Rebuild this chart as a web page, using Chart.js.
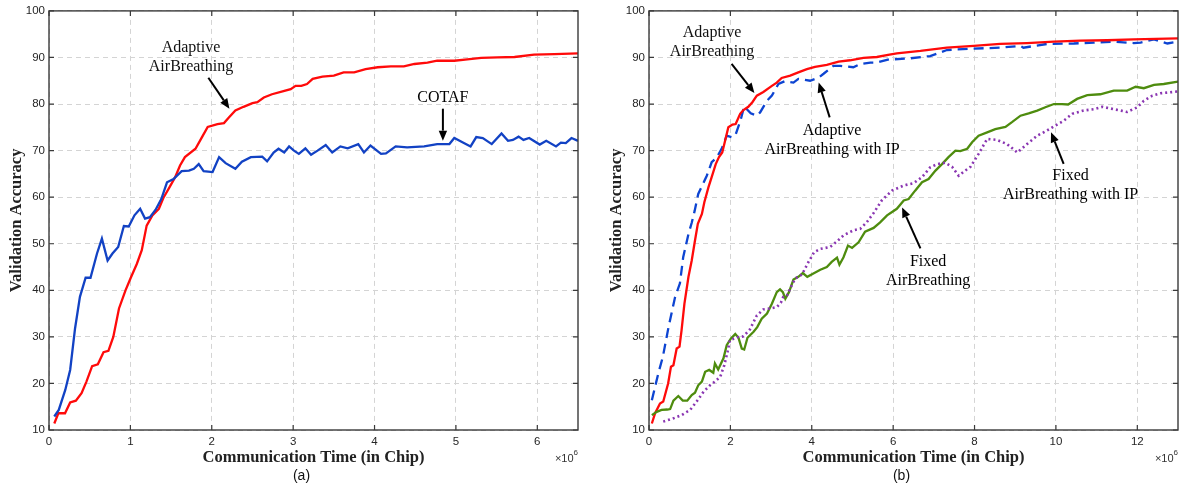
<!DOCTYPE html>
<html><head><meta charset="utf-8">
<script src="https://cdn.jsdelivr.net/npm/chart.js@4.4.1/dist/chart.umd.min.js"></script>
<style>
html,body{margin:0;padding:0;background:#fff;overflow:hidden;}
#wrap{position:relative;width:1181px;height:490px;}
.box{position:absolute;top:0;height:490px;}
</style></head><body>
<div id="wrap">
<div class="box" style="left:0;width:590px"><canvas id="ca"></canvas></div>
<div class="box" style="left:590px;width:591px"><canvas id="cb"></canvas></div>
</div>
<script>
// ---- tick labels ----
const yTicks = [10,20,30,40,50,60,70,80,90,100];
const xTicksA = [0,1,2,3,4,5,6];
const xTicksB = [0,2,4,6,8,10,12];

// ---- data: [communication time (x10^6 chips), validation accuracy] ----
const adaptiveA = [[0.065,11.4],[0.115,13.6],[0.197,13.6],[0.26,15.9],[0.33,16.3],[0.40,17.9],[0.46,20.4],[0.53,23.7],[0.60,24.1],[0.67,26.7],[0.73,27.0],[0.79,30.0],[0.86,36.1],[0.94,40.0],[1.01,42.9],[1.08,45.7],[1.14,48.6],[1.20,53.9],[1.27,56.1],[1.35,57.5],[1.41,60.0],[1.48,62.1],[1.55,64.3],[1.61,66.8],[1.67,68.6],[1.80,70.4],[1.88,72.9],[1.95,75.1],[2.07,75.7],[2.15,75.9],[2.21,77.1],[2.29,78.6],[2.39,79.4],[2.50,80.2],[2.56,80.4],[2.64,81.4],[2.74,82.1],[2.87,82.7],[2.97,83.2],[3.03,83.9],[3.10,83.9],[3.17,84.3],[3.24,85.4],[3.36,85.9],[3.50,86.1],[3.62,86.8],[3.75,86.8],[3.89,87.5],[4.04,87.9],[4.20,88.1],[4.36,88.1],[4.49,88.6],[4.65,88.9],[4.77,89.3],[4.98,89.3],[5.14,89.6],[5.31,89.9],[5.51,90.0],[5.72,90.1],[5.96,90.6],[6.21,90.7],[6.50,90.9]];
const cotafA = [[0.065,12.9],[0.12,14.3],[0.20,18.6],[0.26,22.9],[0.32,31.8],[0.38,38.6],[0.45,42.7],[0.51,42.7],[0.59,47.9],[0.65,51.1],[0.72,46.4],[0.78,47.9],[0.85,49.3],[0.92,53.8],[0.98,53.7],[1.05,56.1],[1.12,57.5],[1.18,55.4],[1.24,55.7],[1.31,57.3],[1.38,59.6],[1.45,63.2],[1.53,63.9],[1.63,65.6],[1.72,65.7],[1.78,66.1],[1.84,67.1],[1.90,65.6],[2.01,65.4],[2.09,68.6],[2.17,67.3],[2.29,66.1],[2.37,67.6],[2.48,68.6],[2.62,68.7],[2.68,67.7],[2.76,69.6],[2.82,70.4],[2.89,69.6],[2.95,70.9],[3.01,70.0],[3.07,69.3],[3.15,70.5],[3.22,69.1],[3.30,70.0],[3.40,71.2],[3.48,69.6],[3.58,70.9],[3.67,70.5],[3.80,71.4],[3.87,69.6],[3.95,71.1],[4.08,69.3],[4.14,69.4],[4.26,70.9],[4.40,70.7],[4.61,70.9],[4.77,71.4],[4.92,71.4],[4.98,72.7],[5.08,71.8],[5.18,70.9],[5.25,72.9],[5.33,72.7],[5.44,71.4],[5.56,73.7],[5.64,72.1],[5.70,72.3],[5.77,73.0],[5.83,72.3],[5.90,72.7],[6.03,71.3],[6.11,72.1],[6.23,70.9],[6.29,71.7],[6.35,71.6],[6.42,72.7],[6.50,72.1]];
const adaptiveB = [[0.07,11.4],[0.15,13.6],[0.27,15.7],[0.35,16.1],[0.47,20.0],[0.54,23.6],[0.60,23.9],[0.68,27.5],[0.75,27.9],[0.80,31.4],[0.87,37.1],[0.97,42.9],[1.05,46.4],[1.13,50.7],[1.20,54.3],[1.30,56.4],[1.36,58.9],[1.46,62.1],[1.54,64.3],[1.64,67.1],[1.72,68.6],[1.80,69.6],[1.87,72.1],[1.95,75.0],[2.05,75.6],[2.13,75.7],[2.24,77.9],[2.32,78.7],[2.44,79.4],[2.54,80.4],[2.65,81.8],[2.81,82.6],[3.02,83.9],[3.14,84.6],[3.26,85.6],[3.47,86.1],[3.67,86.8],[3.88,87.5],[4.08,88.0],[4.37,88.4],[4.66,89.1],[4.94,89.4],[5.27,89.9],[5.60,90.1],[5.91,90.6],[6.09,90.9],[6.67,91.4],[7.32,92.1],[7.98,92.5],[8.63,92.9],[9.29,93.1],[9.95,93.4],[10.60,93.6],[11.26,93.7],[11.91,93.9],[13.0,94.1]];
const adaptiveIPB = [[0.07,16.4],[0.23,22.2],[0.34,25.7],[0.48,32.1],[0.64,38.5],[0.76,41.5],[0.84,47.1],[0.97,52.1],[1.05,54.5],[1.12,57.0],[1.21,60.7],[1.33,62.9],[1.42,64.6],[1.54,67.5],[1.67,68.6],[1.79,70.5],[1.91,73.2],[2.03,72.9],[2.12,73.2],[2.25,76.5],[2.34,79.5],[2.50,78.0],[2.65,77.5],[2.73,78.2],[2.90,80.7],[3.02,81.8],[3.18,84.3],[3.34,84.9],[3.55,84.6],[3.67,85.4],[3.96,85.0],[4.17,85.7],[4.29,86.5],[4.53,88.2],[4.70,88.2],[5.02,87.9],[5.19,88.6],[5.44,88.9],[5.60,88.9],[5.91,89.6],[6.01,89.6],[6.40,89.8],[6.91,90.3],[7.32,91.6],[7.98,91.9],[8.63,92.1],[9.13,92.5],[9.20,92.1],[9.78,92.9],[10.44,93.0],[10.93,93.2],[11.42,93.4],[11.91,93.1],[12.08,93.2],[12.41,93.9],[12.74,93.0],[13.0,93.4]];
const fixedB = [[0.07,13.2],[0.19,13.9],[0.31,14.3],[0.45,14.4],[0.52,14.5],[0.60,16.3],[0.72,17.3],[0.83,16.3],[0.94,16.3],[1.05,17.5],[1.13,18.0],[1.21,19.6],[1.30,20.4],[1.38,22.5],[1.48,22.9],[1.58,22.3],[1.62,24.3],[1.70,23.0],[1.83,25.4],[1.91,28.2],[2.01,29.6],[2.12,30.6],[2.20,29.8],[2.28,27.5],[2.34,27.3],[2.42,29.8],[2.57,31.1],[2.66,32.1],[2.77,33.9],[2.90,35.0],[3.02,37.1],[3.14,39.6],[3.22,40.2],[3.29,39.6],[3.35,38.2],[3.44,39.6],[3.55,42.3],[3.67,42.9],[3.78,43.7],[3.89,42.9],[4.04,43.6],[4.21,44.4],[4.37,45.0],[4.49,46.1],[4.62,47.0],[4.68,45.5],[4.78,47.1],[4.89,49.6],[4.99,49.1],[5.15,50.3],[5.31,52.6],[5.52,53.4],[5.68,54.6],[5.85,56.1],[6.09,57.5],[6.26,59.3],[6.38,59.6],[6.54,61.4],[6.71,63.2],[6.87,63.9],[7.04,65.7],[7.20,67.1],[7.36,68.6],[7.53,70.0],[7.65,69.9],[7.82,70.4],[7.94,71.8],[8.10,73.2],[8.31,73.9],[8.51,74.6],[8.76,75.1],[8.92,76.1],[9.13,77.5],[9.33,78.0],[9.54,78.6],[9.74,79.3],[9.95,80.0],[10.15,80.0],[10.30,79.9],[10.52,81.1],[10.77,81.9],[11.09,82.1],[11.42,82.9],[11.75,82.9],[11.96,83.7],[12.16,83.4],[12.41,84.1],[12.65,84.3],[13.0,84.8]];
const fixedIPB = [[0.35,11.8],[0.60,12.5],[0.80,13.2],[1.01,14.3],[1.17,16.1],[1.34,18.2],[1.50,19.6],[1.62,20.4],[1.75,21.4],[1.85,23.9],[1.93,26.8],[1.99,29.3],[2.16,29.9],[2.32,30.1],[2.48,31.6],[2.65,34.6],[2.81,35.9],[2.98,36.1],[3.14,36.4],[3.24,37.3],[3.30,38.6],[3.39,38.9],[3.51,41.1],[3.59,42.5],[3.76,43.4],[3.92,46.1],[4.06,48.2],[4.21,48.9],[4.45,49.3],[4.62,50.5],[4.78,51.8],[5.03,52.9],[5.19,53.2],[5.35,54.6],[5.52,56.6],[5.72,59.3],[5.97,61.4],[6.26,62.5],[6.50,63.0],[6.71,64.3],[6.91,66.4],[7.08,67.1],[7.28,67.4],[7.45,66.5],[7.61,64.6],[7.77,65.7],[7.90,66.5],[8.10,69.3],[8.31,72.5],[8.55,72.3],[8.80,71.4],[9.05,69.6],[9.29,71.4],[9.54,73.2],[9.78,74.3],[9.99,75.4],[10.19,76.4],[10.40,77.9],[10.68,78.6],[10.93,78.9],[11.14,79.4],[11.42,78.9],[11.75,78.3],[12.0,79.3],[12.16,80.7],[12.37,81.8],[12.57,82.3],[13.0,82.7]];

// ---- annotations: text lines anchored in data coords, arrows from -> to (data coords) ----
const notesA = [
  {lines:['Adaptive','AirBreathing'], x:1.745, y:92.07, from:[1.958,85.64], to:[2.217,79.0]},
  {lines:['COTAF'], x:4.84, y:81.36, from:[4.84,79.0], to:[4.84,72.14]}
];
const notesB = [
  {lines:['Adaptive','AirBreathing'], x:1.55, y:95.29, from:[2.03,88.64], to:[2.59,82.36]},
  {lines:['Adaptive','AirBreathing with IP'], x:4.50, y:74.29, from:[4.44,77.14], to:[4.17,84.64]},
  {lines:['Fixed','AirBreathing'], x:6.86, y:46.07, from:[6.67,49.0], to:[6.22,57.8]},
  {lines:['Fixed','AirBreathing with IP'], x:10.36, y:64.64, from:[10.19,67.15], to:[9.88,73.92]}
];

const SERIF = '"Liberation Serif","DejaVu Serif",serif';
const SANS = '"Liberation Sans",Arial,sans-serif';

function arrow(ctx, x1, y1, x2, y2) {
  const a = Math.atan2(y2 - y1, x2 - x1), L = 10, W = 4.2;
  const bx = x2 - L * Math.cos(a), by = y2 - L * Math.sin(a);
  ctx.strokeStyle = '#000'; ctx.fillStyle = '#000'; ctx.lineWidth = 2;
  ctx.beginPath(); ctx.moveTo(x1, y1); ctx.lineTo(bx, by); ctx.stroke();
  ctx.beginPath();
  ctx.moveTo(x2, y2);
  ctx.lineTo(bx + W * Math.sin(a), by - W * Math.cos(a));
  ctx.lineTo(bx - W * Math.sin(a), by + W * Math.cos(a));
  ctx.closePath(); ctx.fill();
}

const decor = {
  id: 'decor',
  afterDraw(chart, args, opts) {
    const ctx = chart.ctx, ca = chart.chartArea, xs = chart.scales.x, ys = chart.scales.y;
    ctx.save();
    // frame
    ctx.strokeStyle = '#3a3a3a'; ctx.lineWidth = 1.4;
    ctx.strokeRect(ca.left, ca.top, ca.right - ca.left, ca.bottom - ca.top);
    // inward ticks on all sides
    ctx.lineWidth = 1.2;
    ctx.beginPath();
    opts.xTicks.forEach(v => {
      const p = xs.getPixelForValue(v);
      ctx.moveTo(p, ca.bottom); ctx.lineTo(p, ca.bottom - 5);
      ctx.moveTo(p, ca.top); ctx.lineTo(p, ca.top + 5);
    });
    yTicks.forEach(v => {
      const p = ys.getPixelForValue(v);
      ctx.moveTo(ca.left, p); ctx.lineTo(ca.left + 5, p);
      ctx.moveTo(ca.right, p); ctx.lineTo(ca.right - 5, p);
    });
    ctx.stroke();
    // axis titles
    ctx.fillStyle = '#222';
    ctx.font = 'bold 16.5px ' + SERIF;
    ctx.textAlign = 'center'; ctx.textBaseline = 'middle';
    const cx = (ca.left + ca.right) / 2;
    ctx.fillText('Communication Time (in Chip)', cx, 458);
    ctx.save();
    ctx.translate(ca.left - opts.yTitleOff, (ca.top + ca.bottom) / 2);
    ctx.rotate(-Math.PI / 2);
    ctx.fillText('Validation Accuracy', 0, 0);
    ctx.restore();
    // x10^6
    ctx.fillStyle = '#333';
    ctx.font = '8px ' + SANS;
    const w6 = ctx.measureText('6').width;
    ctx.textAlign = 'right';
    ctx.fillText('6', ca.right, 453);
    ctx.font = '11px ' + SANS;
    ctx.fillText('\u00d710', ca.right - w6, 459);
    // sub label
    ctx.fillStyle = '#111';
    ctx.font = '14px ' + SANS;
    ctx.textAlign = 'center';
    ctx.fillText(opts.sub, cx - 12, 476);
    // annotations
    ctx.font = '16px ' + SERIF;
    ctx.fillStyle = '#111';
    opts.notes.forEach(n => {
      const tx = xs.getPixelForValue(n.x), ty = ys.getPixelForValue(n.y);
      n.lines.forEach((s, i) => ctx.fillText(s, tx, ty + i * 19));
      arrow(ctx, xs.getPixelForValue(n.from[0]), ys.getPixelForValue(n.from[1]),
                 xs.getPixelForValue(n.to[0]), ys.getPixelForValue(n.to[1]));
    });
    ctx.restore();
  }
};

function ds(data, color, dash, width) {
  return {data: data.map(p => ({x: p[0], y: p[1]})), borderColor: color, backgroundColor: color,
          borderWidth: width || 2, borderDash: dash || [], showLine: true, fill: false,
          pointRadius: 0, pointHoverRadius: 0, tension: 0};
}

function makeChart(id, datasets, xMax, xTicks, yW, padRight, notes, sub, yTitleOff) {
  return new Chart(document.getElementById(id), {
    type: 'scatter',
    data: {datasets},
    options: {
      responsive: true, maintainAspectRatio: false, animation: false,
      layout: {padding: {top: 10, right: padRight, left: 0, bottom: 0}},
      plugins: {legend: {display: false}, tooltip: {enabled: false},
                decor: {xTicks, notes, sub, yTitleOff}},
      scales: {
        x: {type: 'linear', min: 0, max: xMax,
            afterBuildTicks: s => { s.ticks = xTicks.map(v => ({value: v})); },
            afterFit: s => { s.height = 60; },
            grid: {color: '#d4d4d4', lineWidth: 1, drawTicks: false},
            border: {display: false, dash: [5, 4]},
            ticks: {padding: 5, color: '#262626', font: {family: SANS, size: 11.5}, maxRotation: 0, autoSkip: false}},
        y: {type: 'linear', min: 10, max: 100,
            afterBuildTicks: s => { s.ticks = yTicks.map(v => ({value: v})); },
            afterFit: s => { s.width = yW; },
            grid: {color: '#d4d4d4', lineWidth: 1, drawTicks: false},
            border: {display: false, dash: [5, 4]},
            ticks: {padding: 4, color: '#262626', font: {family: SANS, size: 11.5}, autoSkip: false}}
      }
    },
    plugins: [decor]
  });
}

makeChart('ca', [
  ds(cotafA, '#1242c4', [], 2.3),
  ds(adaptiveA, '#ff0a0a', [], 2.3)
], 6.5, xTicksA, 49, 12, notesA, '(a)', 32);

makeChart('cb', [
  ds(fixedIPB, '#8a36b2', [2, 3], 2.6),
  ds(fixedB, '#4e8c0e', [], 2.3),
  ds(adaptiveB, '#ff0a0a', [], 2.3),
  ds(adaptiveIPB, '#0d44d2', [10, 6], 2.3)
], 13, xTicksB, 59, 3, notesB, '(b)', 32);
</script>
</body></html>
